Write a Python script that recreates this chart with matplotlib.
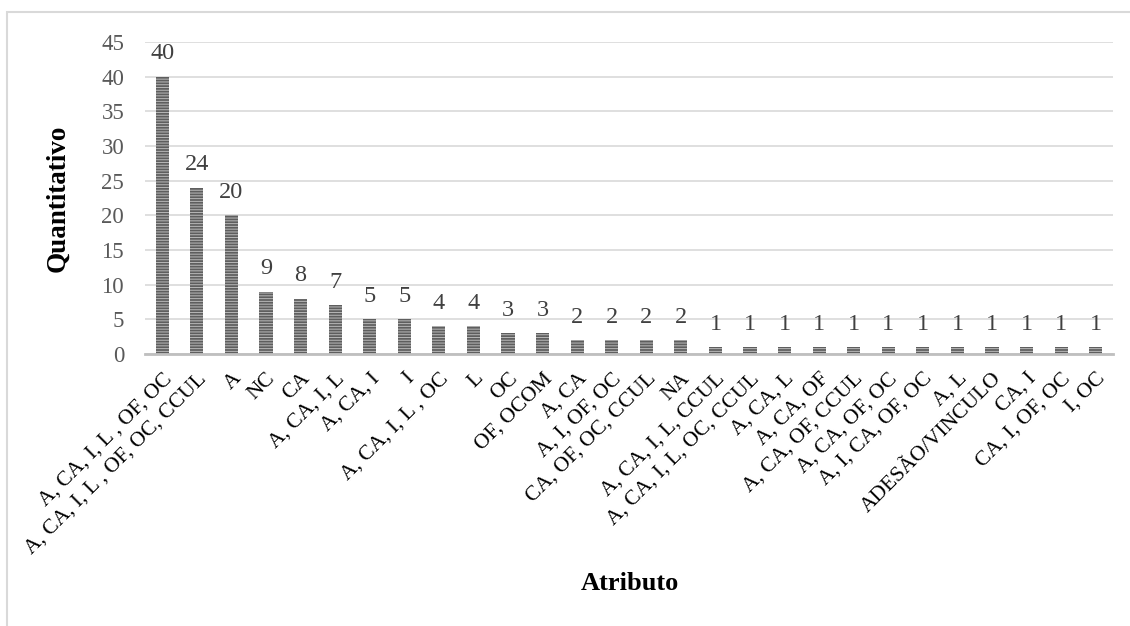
import matplotlib.pyplot as plt
from matplotlib.patches import Rectangle

# dados do gráfico
atributos = ["A, CA, I, L , OF, OC", "A, CA, I, L , OF, OC, CCUL", "A", "NC", "CA",
             "A, CA, I, L", "A, CA, I", "I", "A, CA, I, L , OC", "L", "OC", "OF, OCOM",
             "A, CA", "A, I, OF, OC", "CA, OF, OC, CCUL", "NA", "A, CA, I, L, CCUL",
             "A, CA, I, L, OC, CCUL", "A, CA, L", "A, CA, OF", "A, CA, OF, CCUL",
             "A, CA, OF, OC", "A, I, CA, OF, OC", "A, L", "ADESÃO/VINCULO", "CA, I",
             "CA, I, OF, OC", "I, OC"]
quantidade = [40, 24, 20, 9, 8, 7, 5, 5, 4, 4, 3, 3, 2, 2, 2, 2,
              1, 1, 1, 1, 1, 1, 1, 1, 1, 1, 1, 1]
yticks = [0, 5, 10, 15, 20, 25, 30, 35, 40, 45]

plt.rcParams['font.family'] = ['Liberation Serif', 'DejaVu Serif']
plt.rcParams['hatch.linewidth'] = 0.75

W, H = 1130, 626
fig = plt.figure(figsize=(W / 100, H / 100), dpi=100)
ax = fig.add_axes([145 / W, 1 - 354 / H, (1113 - 145) / W, (354 - 42) / H])

# moldura (só topo e esquerda aparecem)
fig.patches.append(Rectangle((7 / W, -0.2), 1.2, 1 - 12 / H + 0.2, transform=fig.transFigure,
                             fill=False, edgecolor='#d9d9d9', linewidth=1.5, zorder=0))

x = range(len(atributos))
bars = ax.bar(x, quantidade, width=0.38, color='#5e5e5e', edgecolor='#b4b4b4',
              linewidth=0, hatch='------', zorder=3)

for xi, v in zip(x, quantidade):
    ax.annotate(str(v), (xi, v), xytext=(0, 9), textcoords='offset points',
                ha='center', va='bottom', fontsize=17.5, color='#404040')

ax.set_xlim(-0.5, len(atributos) - 0.5)
ax.set_ylim(0, 45)
ax.set_yticks(yticks)
ax.set_yticklabels([str(t) for t in yticks], fontsize=16.5, color='#595959')
ax.set_xticks(list(x))
ax.set_xticklabels(atributos, rotation=45, ha='right', rotation_mode='anchor',
                   fontsize=15.5, color='black')
ax.tick_params(axis='both', length=0)
ax.tick_params(axis='x', pad=11)
ax.tick_params(axis='y', pad=15)
ax.grid(axis='y', color='#d9d9d9', linewidth=1.2, zorder=0)
for s in ['top', 'right', 'left']:
    ax.spines[s].set_visible(False)
ax.spines['bottom'].set_color('#bfbfbf')
ax.spines['bottom'].set_linewidth(2)
ax.spines['bottom'].set_zorder(4)

fig.text(58 / W, 1 - 198 / H, 'Quantitativo', rotation=90, ha='center', va='center',
         fontsize=19.5, fontweight='bold')
fig.text(630 / W, 1 - 583 / H, 'Atributo', ha='center', va='center',
         fontsize=19, fontweight='bold')

fig.savefig('out.png', dpi=100)
